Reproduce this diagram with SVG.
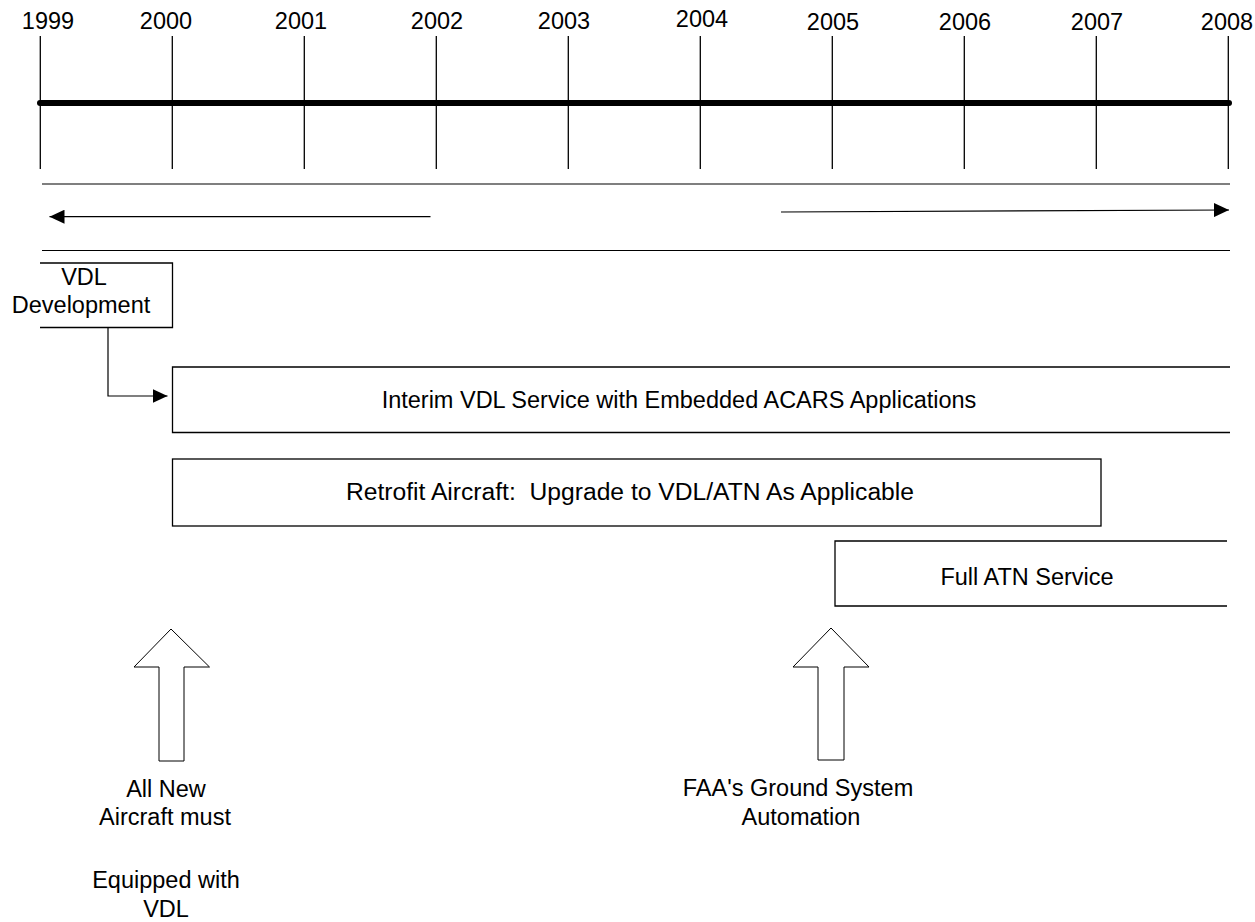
<svg xmlns="http://www.w3.org/2000/svg" width="1255" height="922" viewBox="0 0 1255 922">
<style>
text{font-family:"Liberation Sans",Arial,sans-serif;font-size:23.5px;fill:#000}
.c{text-anchor:middle}
.pre{white-space:pre}
.tick{stroke:#000;stroke-width:1.3}
.ln{stroke:#000;stroke-width:1.2;fill:none}
.box{stroke:#000;stroke-width:1.3;fill:none}
.blk{stroke:#000;stroke-width:1;fill:#fff}
</style>
<defs>
<marker id="ah" markerWidth="16" markerHeight="14" refX="15" refY="7" orient="auto" markerUnits="userSpaceOnUse">
<path d="M0,0 L15,7 L0,14 Z" fill="#000"/>
</marker>
</defs>
<rect width="1255" height="922" fill="#fff"/>
<g id="timeline">
<line x1="40" y1="103" x2="1229" y2="103" stroke="#000" stroke-width="6" stroke-linecap="round"/>
<line class="tick" x1="40.3" y1="36" x2="40.3" y2="169"/>
<line class="tick" x1="172.3" y1="36" x2="172.3" y2="169"/>
<line class="tick" x1="304.3" y1="36" x2="304.3" y2="169"/>
<line class="tick" x1="436.3" y1="36" x2="436.3" y2="169"/>
<line class="tick" x1="568.3" y1="36" x2="568.3" y2="169"/>
<line class="tick" x1="700.3" y1="36" x2="700.3" y2="169"/>
<line class="tick" x1="832.3" y1="36" x2="832.3" y2="169"/>
<line class="tick" x1="964.3" y1="36" x2="964.3" y2="169"/>
<line class="tick" x1="1096.3" y1="36" x2="1096.3" y2="169"/>
<line class="tick" x1="1228.3" y1="36" x2="1228.3" y2="169"/>
<text class="c" x="48" y="28.5">1999</text>
<text class="c" x="166" y="28.5">2000</text>
<text class="c" x="301" y="28.5">2001</text>
<text class="c" x="437" y="28.5">2002</text>
<text class="c" x="564" y="28.5">2003</text>
<text class="c" x="702" y="26.5">2004</text>
<text class="c" x="833" y="29.5">2005</text>
<text class="c" x="965" y="29.5">2006</text>
<text class="c" x="1097" y="29.5">2007</text>
<text class="c" x="1227" y="29.5">2008</text>
</g>
<g id="band">
<line class="ln" x1="42" y1="184" x2="1230" y2="184"/>
<line class="ln" x1="42" y1="250.5" x2="1230" y2="250.5"/>
</g>
<g id="vdl-development">
<path class="box" d="M40,263 H172.5 V327.5 H40"/>
<text class="c" x="84" y="285">VDL</text>
<text class="c" x="81" y="313">Development</text>
</g>
<g id="interim">
<path class="box" d="M1230,367 H172.5 V432.5 H1230"/>
<text class="c" x="679" y="408">Interim VDL Service with Embedded ACARS Applications</text>
</g>
<g id="retrofit">
<rect class="box" x="172.5" y="459" width="928.5" height="67"/>
<text class="c pre" x="630" y="500" xml:space="preserve" textLength="568" lengthAdjust="spacingAndGlyphs">Retrofit Aircraft:  Upgrade to VDL/ATN As Applicable</text>
</g>
<g id="full-atn">
<path class="box" d="M1227,541 H835 V606 H1227"/>
<text class="c" x="1027" y="585">Full ATN Service</text>
</g>
<g id="new-aircraft">
<path class="blk" d="M171,629 L209.5,667 H184 V761 H159 V667 H134 Z"/>
<text class="c" x="166" y="797">All New</text>
<text class="c" x="165" y="825">Aircraft must</text>
<text class="c" x="166" y="888">Equipped with</text>
<text class="c" x="166" y="917">VDL</text>
</g>
<g id="faa">
<path class="blk" d="M831,628 L869,667 H844 V760 H818 V667 H793 Z"/>
<text class="c" x="798" y="796">FAA's Ground System</text>
<text class="c" x="801" y="825">Automation</text>
</g>
<g id="connectors">
<line class="ln" x1="430.5" y1="216.7" x2="49.5" y2="216.7" marker-end="url(#ah)"/>
<line class="ln" x1="781" y1="212" x2="1229" y2="210" marker-end="url(#ah)"/>
<path class="ln" d="M108,328 V396 H167.5" marker-end="url(#ah)"/>
</g>
</svg>
